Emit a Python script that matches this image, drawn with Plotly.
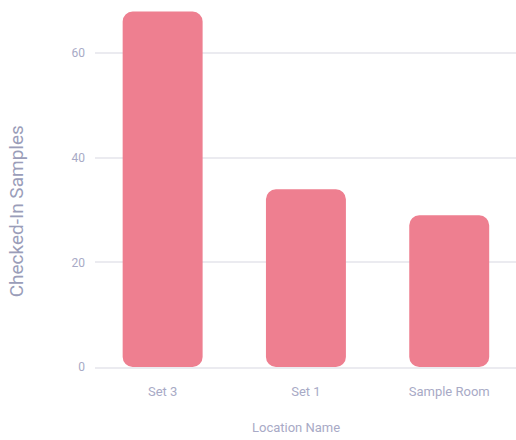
import plotly.graph_objects as go

categories = ["Set 3", "Set 1", "Sample Room"]
samples = [68, 34, 29]
y_ticks = [0, 20, 40, 60]

bar_color = "#EE7F90"
text_color = "#A8AAC6"
title_color = "#9A9DB9"
grid_color = "#EBEBF0"

fig = go.Figure()
# explicit base -> floating bars, rounded at both ends
fig.add_trace(go.Bar(x=categories, y=samples, base=[0] * len(samples),
                     marker=dict(color=bar_color, cornerradius=10, line=dict(width=0)),
                     hovertemplate="%{x}: %{y}<extra></extra>"))

fig.update_layout(
    width=516, height=440,
    margin=dict(l=95, r=0, t=1, b=73),
    paper_bgcolor="white", plot_bgcolor="white",
    bargap=0.442, showlegend=False,
    font=dict(family="Roboto", color=text_color),
    xaxis=dict(
        range=[-0.472, 2.466], showgrid=False, zeroline=False, automargin=False,
        showline=True, linecolor=grid_color, linewidth=1.5,
        tickfont=dict(size=13, color=text_color), ticks="", ticklabelstandoff=12,
        fixedrange=True,
    ),
    yaxis=dict(
        range=[0, 70], tickvals=y_ticks, showgrid=True, gridcolor=grid_color, gridwidth=1.5,
        zeroline=False, showline=False, ticks="", automargin=False,
        tickfont=dict(size=12, color=text_color), ticklabelstandoff=9,
        fixedrange=True,
    ),
    annotations=[
        dict(text="Checked-In Samples", xref="paper", yref="paper", x=-0.187, y=0.426,
             xanchor="center", yanchor="middle", textangle=-90, showarrow=False,
             font=dict(size=19, color=title_color, family="Roboto")),
        dict(text="Location Name", xref="paper", yref="paper", x=0.477, y=-0.164,
             xanchor="center", yanchor="middle", showarrow=False,
             font=dict(size=13, color=text_color, family="Roboto")),
    ],
)

fig.write_html("out.html", config={"displayModeBar": False},
               post_script="document.body.style.margin='0px';")
